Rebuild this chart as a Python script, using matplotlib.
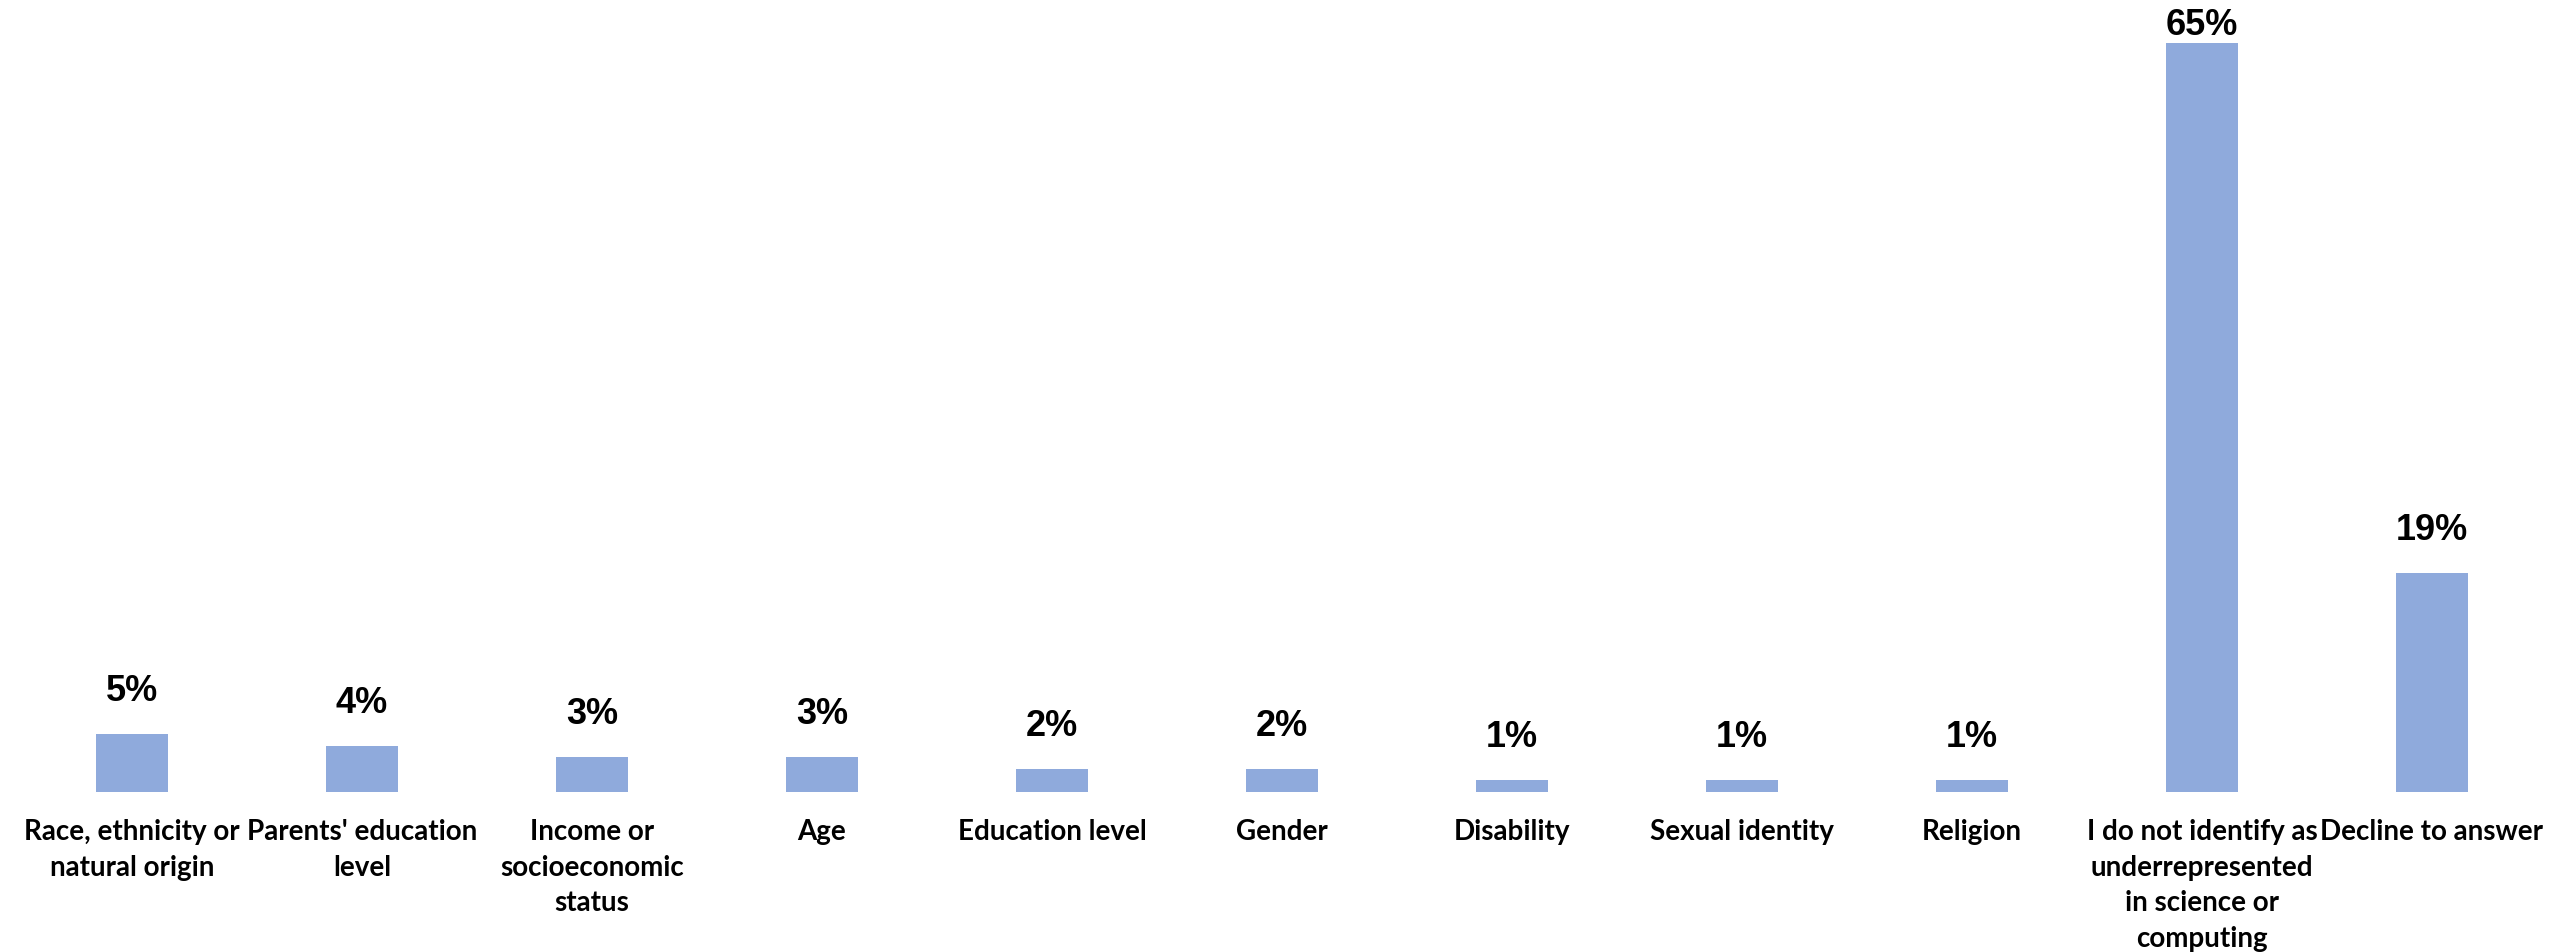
import matplotlib
matplotlib.use("Agg")
import matplotlib.pyplot as plt

categories = [
    "Race, ethnicity or\nnatural origin",
    "Parents' education\nlevel",
    "Income or\nsocioeconomic\nstatus",
    "Age",
    "Education level",
    "Gender",
    "Disability",
    "Sexual identity",
    "Religion",
    "I do not identify as\nunderrepresented\nin science or\ncomputing",
    "Decline to answer",
]
values = [5, 4, 3, 3, 2, 2, 1, 1, 1, 65, 19]
value_labels = [f"{v}%" for v in values]

W, H = 2552, 953
fig = plt.figure(figsize=(W / 100, H / 100), dpi=100)
ax = fig.add_axes([17 / W, 160 / H, 2530 / W, (793 - 9.5) / H])

x = list(range(len(values)))
bars = ax.bar(x, values, width=0.315, color="#8FAADC")
ax.set_xlim(-0.5, len(values) - 0.5)
ax.set_ylim(0, 68)

# the tallest label sits just above its bar (pushed down to stay inside the chart)
top = max(values)
for rect, lab, v in zip(bars, value_labels, values):
    pad = 1 if v == top else 19
    ax.annotate(lab, (rect.get_x() + rect.get_width() / 2, rect.get_height()),
                xytext=(0, pad), textcoords="offset points",
                ha="center", va="bottom",
                fontsize=26, fontweight="bold", family="Liberation Sans", color="black")

ax.set_xticks(x)
ax.set_xticklabels(categories, fontsize=20, fontweight="bold", family="Lato",
                   linespacing=1.45, va="top")
ax.tick_params(axis="x", length=0, pad=19)
ax.set_yticks([])
for s in ax.spines.values():
    s.set_visible(False)

fig.savefig("out.png", dpi=100)
